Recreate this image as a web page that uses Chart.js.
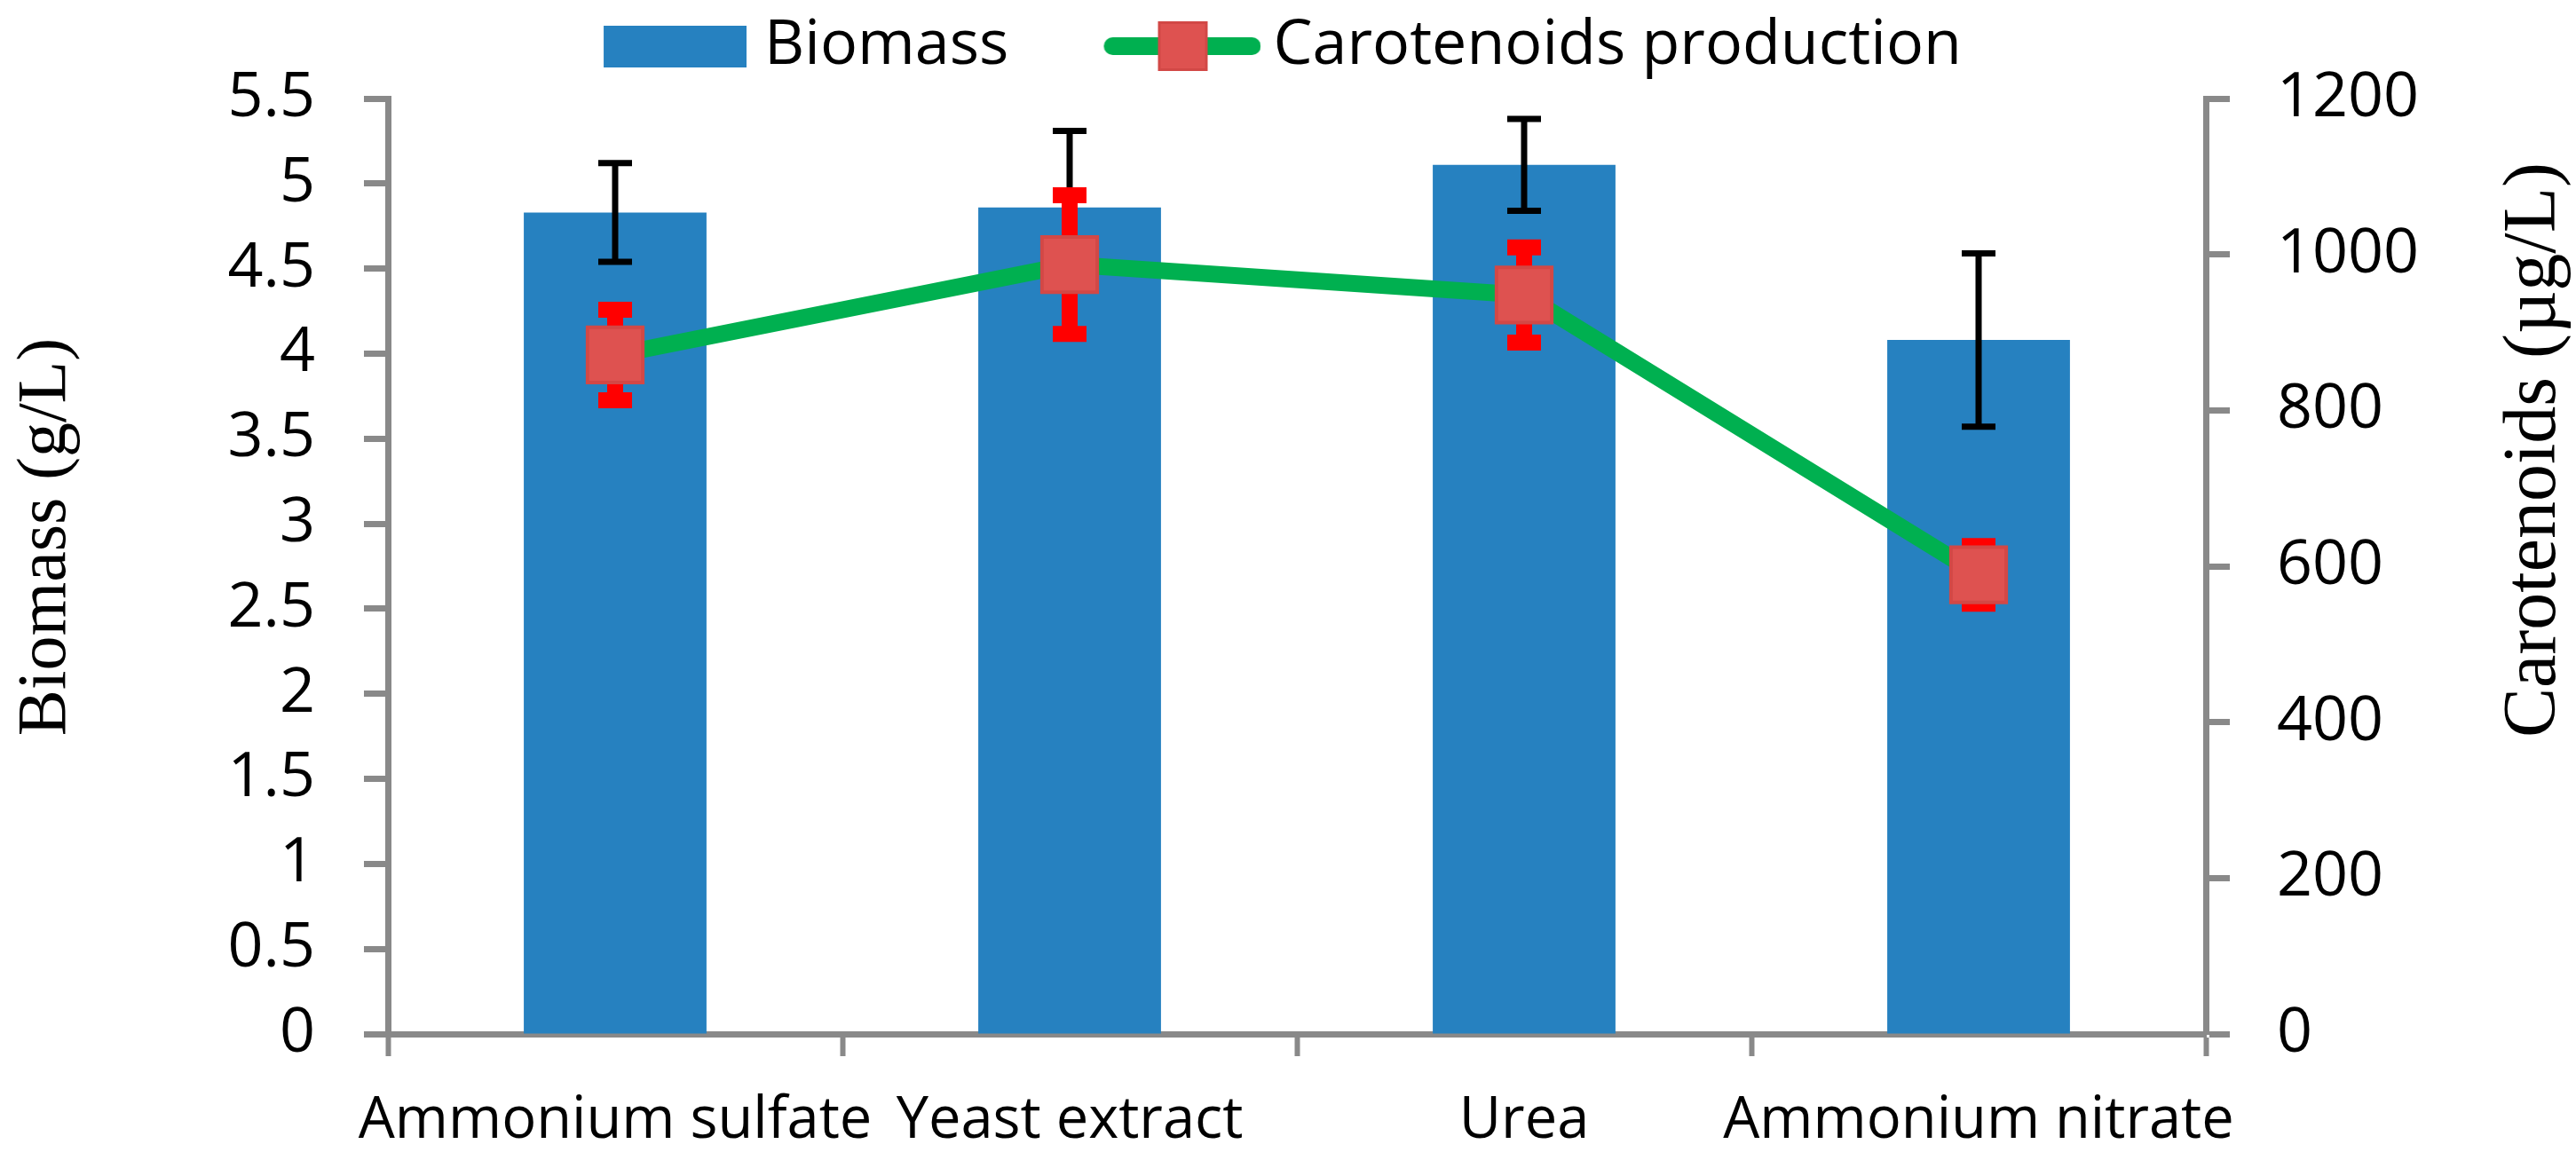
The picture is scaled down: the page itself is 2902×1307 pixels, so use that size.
<!DOCTYPE html>
<html>
<head>
<meta charset="utf-8">
<title>Biomass and carotenoids</title>
<script src="https://cdn.jsdelivr.net/npm/chart.js@4/dist/chart.umd.min.js"></script>
<style>
  html, body { margin: 0; padding: 0; background: #fff; }
  canvas { display: block; }
</style>
</head>
<body>
<canvas id="chart" width="2902" height="1307"></canvas>
<script>
// values
const categories = ['Ammonium sulfate', 'Yeast extract', 'Urea', 'Ammonium nitrate'];
const biomass = [4.83, 4.86, 5.11, 4.08];          // g/L
const biomassErr = [0.29, 0.45, 0.27, 0.51];
const carotenoids = [871, 987, 948, 589];          // µg/L
const carotenoidsErr = [58, 89, 61, 37];

const BLUE = '#2681C0';
const GREEN = '#00B050';
const MARKER = '#DE5250';
const MARKER_EDGE = '#D24846';
const AXIS = '#898989';

// legend symbols, drawn once into small canvases
const makeIcon = (w, h, draw) => {
    const c = document.createElement('canvas');
    c.width = w;
    c.height = h;
    draw(c.getContext('2d'));
    return c;
};

const biomassIcon = makeIcon(276, 47, ctx => {
    ctx.fillStyle = BLUE;
    ctx.fillRect(115, 0, 161, 47);
});

const caroIcon = makeIcon(288, 58, ctx => {
    ctx.strokeStyle = GREEN;
    ctx.lineWidth = 20;
    ctx.lineCap = 'round';
    ctx.beginPath();
    ctx.moveTo(121, 29);
    ctx.lineTo(278, 29);
    ctx.stroke();
    ctx.fillStyle = MARKER;
    ctx.strokeStyle = MARKER_EDGE;
    ctx.lineWidth = 3;
    ctx.fillRect(172, 1, 56, 56);
    ctx.strokeRect(173.5, 2.5, 53, 53);
});

// make the legend band a fixed height
const legendHeight = {
    id: 'legendHeight',
    beforeInit(chart) {
        const fit = chart.legend.fit;
        chart.legend.fit = function () {
            fit.call(this);
            this.height = 111;
        };
    }
};

const drawErrors = (ctx, xs, lo, hi, color, lineW, capW, capT) => {
    ctx.save();
    ctx.strokeStyle = color;
    ctx.lineCap = 'butt';
    xs.forEach((x, i) => {
        ctx.lineWidth = lineW;
        ctx.beginPath();
        ctx.moveTo(x, hi[i]);
        ctx.lineTo(x, lo[i]);
        ctx.stroke();
        ctx.lineWidth = capT;
        ctx.beginPath();
        ctx.moveTo(x - capW / 2, hi[i]);
        ctx.lineTo(x + capW / 2, hi[i]);
        ctx.moveTo(x - capW / 2, lo[i]);
        ctx.lineTo(x + capW / 2, lo[i]);
        ctx.stroke();
    });
    ctx.restore();
};

// error bars: black over the bars, red under the markers
const errorBars = {
    id: 'errorBars',
    afterDatasetDraw(chart, args) {
        if (args.index !== 0) return;
        const x = chart.scales.x, y = chart.scales.y;
        const xs = categories.map((_, i) => x.getPixelForValue(i));
        const hi = biomass.map((v, i) => y.getPixelForValue(v + biomassErr[i]));
        const lo = biomass.map((v, i) => y.getPixelForValue(v - biomassErr[i]));
        drawErrors(chart.ctx, xs, lo, hi, '#000', 7, 38, 7);
    },
    beforeDatasetDraw(chart, args) {
        if (args.index !== 1) return;
        const x = chart.scales.x, y = chart.scales.y1;
        const xs = categories.map((_, i) => x.getPixelForValue(i));
        const hi = carotenoids.map((v, i) => y.getPixelForValue(v + carotenoidsErr[i]));
        const lo = carotenoids.map((v, i) => y.getPixelForValue(v - carotenoidsErr[i]));
        drawErrors(chart.ctx, xs, lo, hi, '#FF0000', 18, 38, 18);
    }
};

// both axis titles read bottom to top
const axisTitles = {
    id: 'axisTitles',
    afterDraw(chart) {
        const ctx = chart.ctx;
        const put = (text, x, y, size) => {
            ctx.save();
            ctx.font = size + 'px "Liberation Serif", "Times New Roman", serif';
            ctx.fillStyle = '#000';
            ctx.textAlign = 'center';
            ctx.textBaseline = 'alphabetic';
            ctx.translate(x, y);
            ctx.rotate(-Math.PI / 2);
            ctx.fillText(text, 0, 0);
            ctx.restore();
        };
        put('Biomass (g/L)', 73, 605, 78);
        put('Carotenoids (\u00B5g/L)', 2878, 507, 84);
    }
};

// plain numbers: 5 not 5.0, 1200 not 1,200
const plain = v => String(Math.round(v * 100) / 100);

Chart.defaults.font.family = '"Open Sans", sans-serif';
Chart.defaults.color = '#000';

new Chart(document.getElementById('chart'), {
    type: 'bar',
    data: {
        labels: categories,
        datasets: [{
            label: 'Biomass',
            data: biomass,
            backgroundColor: BLUE,
            borderWidth: 0,
            barPercentage: 0.402,
            categoryPercentage: 1,
            yAxisID: 'y',
            order: 2
        }, {
            type: 'line',
            label: 'Carotenoids production',
            data: carotenoids,
            borderColor: GREEN,
            borderWidth: 19,
            tension: 0,
            pointStyle: 'rect',
            pointRadius: 44,
            pointHoverRadius: 44,
            pointBackgroundColor: MARKER,
            pointBorderColor: MARKER_EDGE,
            pointBorderWidth: 4,
            yAxisID: 'y1',
            order: 1
        }]
    },
    options: {
        responsive: false,
        devicePixelRatio: 1,
        animation: false,
        layout: { padding: { right: 112 } },
        plugins: {
            tooltip: { enabled: false },
            legend: {
                position: 'top',
                labels: {
                    usePointStyle: true,
                    pointStyleWidth: 246,
                    boxHeight: 57,
                    padding: 17,
                    font: { size: 70 },
                    generateLabels: () => [
                        { text: 'Biomass', pointStyle: biomassIcon, fillStyle: BLUE, lineWidth: 0, hidden: false, datasetIndex: 0 },
                        { text: 'Carotenoids production', pointStyle: caroIcon, fillStyle: MARKER, lineWidth: 0, hidden: false, datasetIndex: 1 }
                    ]
                }
            }
        },
        scales: {
            x: {
                offset: true,
                grid: {
                    offset: true,
                    drawOnChartArea: false,
                    tickLength: 25,
                    tickWidth: 6,
                    tickColor: AXIS
                },
                border: { display: true, color: AXIS, width: 7 },
                ticks: {
                    font: { size: 65 },
                    padding: 34,
                    autoSkip: false,
                    maxRotation: 0,
                    minRotation: 0
                },
                afterFit: scale => { scale.height = 142; }
            },
            y: {
                position: 'left',
                min: 0,
                max: 5.5,
                grid: {
                    drawOnChartArea: false,
                    tickLength: 27,
                    tickWidth: 7,
                    tickColor: AXIS
                },
                border: { display: true, color: AXIS, width: 7 },
                ticks: { stepSize: 0.5, font: { size: 70 }, padding: 55, callback: plain },
                afterFit: scale => { scale.width = 437; }
            },
            y1: {
                position: 'right',
                min: 0,
                max: 1200,
                grid: {
                    drawOnChartArea: false,
                    tickLength: 27,
                    tickWidth: 7,
                    tickColor: AXIS
                },
                border: { display: true, color: AXIS, width: 7 },
                ticks: { stepSize: 200, font: { size: 70 }, padding: 53, callback: plain },
                afterFit: scale => { scale.width = 305; }
            }
        }
    },
    plugins: [legendHeight, errorBars, axisTitles]
});
</script>
</body>
</html>
